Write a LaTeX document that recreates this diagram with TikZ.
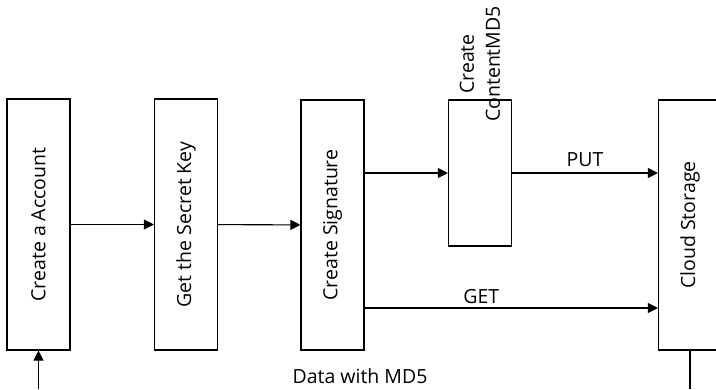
\documentclass[tikz,border=0pt]{standalone}
\usepackage{fontspec}
\setmainfont{Open Sans}
\usepackage{graphicx}
\usetikzlibrary{arrows.meta}

\begin{document}
\begin{tikzpicture}[x=1pt,y=-1pt,font=\fontsize{19.5}{26}\selectfont,
    box/.style={draw,line width=1.1pt,minimum width=63pt,inner sep=0pt},
    flow/.style={line width=1.1pt,-{Triangle[length=10pt,width=10pt]}}]
      \useasboundingbox (0,0) rectangle (716,389);
      \clip (0,0) rectangle (716,389);
      \node[box,minimum height=251pt] (acct) at (38.5,224.5) {\rotatebox{90}{Create a Account}};
      \node[box,minimum height=251pt] (key) at (186,224.5) {\rotatebox{90}{Get the Secret Key}};
      \node[box,minimum height=250pt] (sig) at (332.5,225) {\rotatebox{90}{Create Signature}};
      \node[box,minimum height=146pt] (md5) at (480,173) {};
      \node[box,minimum height=250pt] (cloud) at (690,225) {\rotatebox{90}{Cloud Storage}};
      \node[rotate=90,align=center,inner sep=0pt] (md5txt) at (480,64) {Create\\ContentMD5};
      \draw[flow] (acct) -- (key);
      \draw[flow] (key) -- (sig);
      \draw[flow] (sig.east |- md5) -- (md5);
      \draw[flow] (md5) -- node[above,inner sep=6pt] (put) {PUT} (md5 -| cloud.west);
      \draw[flow] ([yshift=-83pt]sig.east) -- node[above,inner sep=4pt,xshift=-30pt] (get) {GET} ([yshift=-83pt]sig.east -| cloud.west);
      \coordinate (loopa) at (38.5,389);
      \coordinate (loopb) at (690,389);
      \draw[flow] (loopa) -- (acct);
      \draw[line width=1.1pt] (cloud) -- (loopb);
      \node (data) at (360,376) {Data with MD5};
    \end{tikzpicture}
\end{document}
